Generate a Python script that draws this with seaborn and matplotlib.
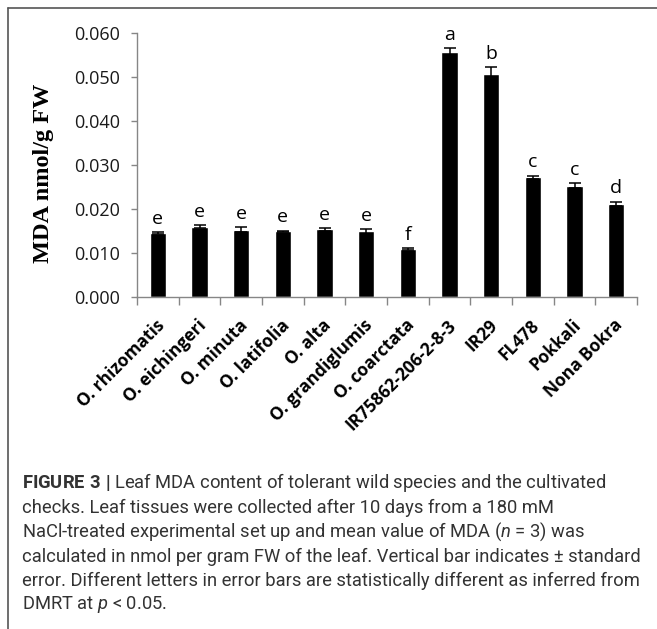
import numpy as np
import pandas as pd
import matplotlib
matplotlib.use("Agg")
import matplotlib.pyplot as plt
from matplotlib.lines import Line2D
from matplotlib.ticker import FormatStrFormatter, FixedLocator
from matplotlib.transforms import ScaledTranslation
import seaborn as sns

# Leaf MDA content (nmol/g FW), mean and standard error, with DMRT groups
genotypes = ["O. rhizomatis", "O. eichingeri", "O. minuta", "O. latifolia", "O. alta",
             "O. grandiglumis", "O. coarctata", "IR75862-206-2-8-3", "IR29", "FL478",
             "Pokkali", "Nona Bokra"]
mda_mean = [0.0146, 0.0160, 0.0153, 0.0149, 0.0154, 0.0149, 0.0109,
            0.0556, 0.0507, 0.0272, 0.0253, 0.0212]
mda_se = [0.0002, 0.0004, 0.0006, 0.0002, 0.0003, 0.0005, 0.0002,
          0.0009, 0.0015, 0.0004, 0.0006, 0.0005]
dmrt_letters = ["e", "e", "e", "e", "e", "e", "f", "a", "b", "c", "c", "d"]
y_ticks = [0.000, 0.010, 0.020, 0.030, 0.040, 0.050, 0.060]

df = pd.DataFrame({"genotype": genotypes, "mda": mda_mean, "se": mda_se,
                   "group": dmrt_letters})

sns.set_theme(style="white")
plt.rcParams["font.family"] = ["Open Sans", "DejaVu Sans"]
plt.rcParams["mathtext.fontset"] = "custom"
plt.rcParams["mathtext.rm"] = "Roboto"
plt.rcParams["mathtext.it"] = "Roboto:italic"
plt.rcParams["mathtext.bf"] = "Roboto:bold"

W, H = 657, 629
fig = plt.figure(figsize=(W / 100, H / 100), dpi=100)
ax = fig.add_axes([137 / W, 1 - 297 / H, 500 / W, 264 / H])

axis_grey = "#868686"
sns.barplot(data=df, x="genotype", y="mda", color="black", width=0.385,
            saturation=1, errorbar=None, ax=ax)
ax.errorbar(np.arange(len(genotypes)), df["mda"], yerr=df["se"], fmt="none",
            ecolor="black", elinewidth=1.1, capsize=4, capthick=1.1, zorder=3)

# DMRT letters above the error bars
for i, (m, s, g) in enumerate(zip(mda_mean, mda_se, dmrt_letters)):
    ax.annotate(g, (i, m + s), xytext=(0, 3), textcoords="offset points",
                ha="center", va="bottom", fontsize=14, color="black",
                family=["Open Sans", "DejaVu Sans"])

ax.set_xlim(-0.5, len(genotypes) - 0.5)
ax.set_ylim(0, 0.06)
ax.yaxis.set_major_locator(FixedLocator(y_ticks))
ax.yaxis.set_major_formatter(FormatStrFormatter("%.3f"))

for side in ("top", "right"):
    ax.spines[side].set_visible(False)
for side in ("left", "bottom"):
    ax.spines[side].set_color(axis_grey)
    ax.spines[side].set_linewidth(1.0)

ax.tick_params(axis="y", left=True, direction="out", length=4, width=1,
               color=axis_grey, pad=8, labelsize=13, labelcolor="#1a1a1a")
ax.tick_params(axis="x", which="major", bottom=False, length=0, pad=6)
ax.set_xticks(np.arange(-0.5, len(genotypes)), minor=True)
ax.tick_params(axis="x", which="minor", bottom=True, direction="out",
               length=6, width=1, color=axis_grey)
ax.set_xticks(np.arange(len(genotypes)))
ax.set_xticklabels(genotypes, rotation=45, ha="right", va="center",
                   rotation_mode="anchor", fontsize=12.5, fontweight="bold",
                   color="black")
shift = ScaledTranslation(4 / 100, 0, fig.dpi_scale_trans)
for lab in ax.get_xticklabels():
    lab.set_y(-0.065)
    lab.set_transform(lab.get_transform() + shift)

ax.set_xlabel("")
ax.set_ylabel("MDA nmol/g FW", fontsize=17.5, fontweight="bold",
              family=["Liberation Serif", "DejaVu Serif"], color="black")
ax.yaxis.set_label_coords(-0.166, 0.47)

# Figure frame (top and left rules)
fig.add_artist(Line2D([8 / W, 1.0], [1 - 8 / H, 1 - 8 / H], color="#555555",
                      lw=1.2, transform=fig.transFigure))
fig.add_artist(Line2D([8 / W, 8 / W], [1 - 8 / H, 0.0], color="#555555",
                      lw=1.2, transform=fig.transFigure))

caption = [
    r"$\mathbf{FIGURE\ 3\ |}$ Leaf MDA content of tolerant wild species and the cultivated",
    "checks. Leaf tissues were collected after 10 days from a 180 mM",
    r"NaCl-treated experimental set up and mean value of MDA ($\mathit{n}$ = 3) was",
    "calculated in nmol per gram FW of the leaf. Vertical bar indicates \u00b1 standard",
    "error. Different letters in error bars are statistically different as inferred from",
    r"DMRT at $\mathit{p}$ < 0.05.",
]
baselines = [488, 513, 537, 562, 586, 609]
for line, yb in zip(caption, baselines):
    fig.text(22 / W, 1 - yb / H, line, ha="left", va="baseline", fontsize=13.2,
             family=["Roboto", "DejaVu Sans"], color="#333333")

fig.savefig("out.png", dpi=100)
